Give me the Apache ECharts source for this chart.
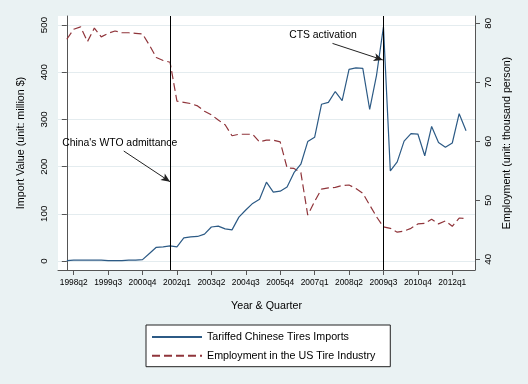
<!DOCTYPE html>
<html><head><meta charset="utf-8">
<script src="https://cdn.jsdelivr.net/npm/echarts@6/dist/echarts.min.js"></script>
<style>html,body{margin:0;padding:0;background:#eaf2f3}#c{width:528px;height:384px}</style>
</head><body><div id="c"></div>
<script>
const quarters = ['1998q1','1998q2','1998q3','1998q4','1999q1','1999q2','1999q3','1999q4','2000q1','2000q2','2000q3','2000q4',
'2001q1','2001q2','2001q3','2001q4','2002q1','2002q2','2002q3','2002q4','2003q1','2003q2','2003q3','2003q4',
'2004q1','2004q2','2004q3','2004q4','2005q1','2005q2','2005q3','2005q4','2006q1','2006q2','2006q3','2006q4',
'2007q1','2007q2','2007q3','2007q4','2008q1','2008q2','2008q3','2008q4','2009q1','2009q2','2009q3','2009q4',
'2010q1','2010q2','2010q3','2010q4','2011q1','2011q2','2011q3','2011q4','2012q1','2012q2','2012q3'];
const tickQuarters = ['1998q2','1999q3','2000q4','2002q1','2003q2','2004q3','2005q4','2007q1','2008q2','2009q3','2010q4','2012q1'];
const leftTicks = [0,100,200,300,400,500];
const rightTicks = [40,50,60,70,80];
const imports = [1,2,2,2,2,2,1,1,1,2,2,3,
16,29,30,32,30,49,51,52,57,72,74,68,66,93,108,122,131,167,146,148,157,187,205,253,262,332,336,
359,340,406,409,408,321,394,496,191,210,254,270,269,223,285,251,241,250,312,276];
const employment = [77.3,79.0,79.4,76.9,79.2,77.7,78.3,78.7,78.4,78.4,78.3,78.2,
76.3,74.2,73.7,73.4,66.8,66.6,66.4,
66.0,65.1,64.5,63.6,62.8,60.95,61.2,61.2,61.2,59.9,60.2,60.2,59.9,
55.5,55.4,54.7,47.5,49.8,51.9,52.1,
52.2,52.5,52.6,52.0,51.2,49.2,47.2,45.5,45.25,44.6,44.8,45.25,46.0,46.1,46.8,46.0,46.5,45.6,47.0,46.9];
const seriesNames = ['Tariffed Chinese Tires Imports','Employment in the US Tire Industry'];
const events = [{label:"China's WTO admittance", quarter:'2001q4'},{label:'CTS activation', quarter:'2009q3'}];

const FONT = "'Liberation Sans',Arial,sans-serif";
const axisCol = '#555555';
const xTickVals = tickQuarters.map(q => quarters.indexOf(q));
const evIdx = events.map(e => quarters.indexOf(e.quarter));

const chart = echarts.init(document.getElementById('c'), null, {renderer:'canvas'});
chart.setOption({
  animation:false,
  backgroundColor:'#eaf2f3',
  textStyle:{fontFamily:FONT},
  grid:{left:58, right:53, top:16, bottom:114, show:true, backgroundColor:'#ffffff', borderWidth:0},
  xAxis:{type:'value', min:-1.28, max:59.3,
    name:'Year & Quarter', nameLocation:'middle', nameGap:31,
    nameTextStyle:{fontFamily:FONT, fontSize:10.7, color:'#000'},
    axisLine:{show:true, onZero:false, lineStyle:{color:axisCol, width:1}},
    axisTick:{show:true, length:5, customValues:xTickVals, lineStyle:{color:axisCol}},
    axisLabel:{customValues:xTickVals, formatter:v => quarters[Math.round(v)], margin:9, hideOverlap:false,
      showMinLabel:true, showMaxLabel:true,
      fontFamily:FONT, fontSize:8.4, color:'#000'},
    splitLine:{show:false}},
  yAxis:[{type:'value', min:-19.07, max:519.07, position:'left',
    name:'Import Value (unit: million $)', nameLocation:'middle', nameGap:31,
    nameTextStyle:{fontFamily:FONT, fontSize:10.7, color:'#000'},
    axisLine:{show:true, lineStyle:{color:axisCol, width:1}},
    axisTick:{show:true, length:5, customValues:leftTicks, lineStyle:{color:axisCol}},
    axisLabel:{customValues:leftTicks, rotate:90, margin:9, fontFamily:FONT, fontSize:9.8, color:'#000'},
    splitLine:{show:true, lineStyle:{color:'#e4ecef', width:1}}},
   {type:'value', min:38.19, max:81.24, position:'right',
    name:'Employment (unit: thousand person)', nameLocation:'middle', nameGap:27,
    nameTextStyle:{fontFamily:FONT, fontSize:10.7, color:'#000'},
    axisLine:{show:true, lineStyle:{color:axisCol, width:1}},
    axisTick:{show:true, length:5, customValues:rightTicks, lineStyle:{color:axisCol}},
    axisLabel:{customValues:rightTicks, rotate:90, margin:8, fontFamily:FONT, fontSize:9.8, color:'#000'},
    splitLine:{show:false}}],
  legend:{left:146, top:325, orient:'vertical', itemWidth:50, itemHeight:14, itemGap:4.7,
    itemStyle:{color:'transparent', borderColor:'transparent', borderWidth:0},
    padding:[5,15,4,5], backgroundColor:'#ffffff', borderColor:'#222', borderWidth:1,
    textStyle:{fontFamily:FONT, fontSize:10.7, color:'#000', lineHeight:14},
    data:seriesNames},
  series:[
    {name:seriesNames[0], type:'line', xAxisIndex:0, yAxisIndex:0, showSymbol:false, symbol:'none',
     data:imports.map((v,i)=>[i,v]),
     lineStyle:{color:'#2c5a85', width:1.2}, itemStyle:{color:'#2c5a85'}, z:3,
     markLine:{silent:true, symbol:['none','arrow'], symbolSize:[6,9], animation:false,
       label:{show:false},
       lineStyle:{color:'#222', width:1, type:'solid'}, itemStyle:{color:'#222'},
       data:[
         [{coord:[8.27,233]},{coord:[evIdx[0],168]}],
         [{coord:[38.6,461]},{coord:[45.9,426]}]
       ]},
     markPoint:{silent:true, symbol:'circle', symbolSize:0, animation:false,
       label:{show:true, position:'right', distance:0, formatter:'{b}', fontFamily:FONT, fontSize:10.4, color:'#000'},
       data:[
         {name:events[0].label, coord:[-0.67,249]},
         {name:events[1].label, coord:[32.3,479]}
       ]}},
    {name:seriesNames[1], type:'line', xAxisIndex:0, yAxisIndex:1, showSymbol:false, symbol:'none',
     data:employment.map((v,i)=>[i,v]),
     lineStyle:{color:'#90353b', width:1.2, type:[8,4]}, itemStyle:{color:'#90353b'}, z:2,
     markLine:{silent:true, symbol:'none', animation:false, label:{show:false},
       lineStyle:{color:'#000', width:1, type:'solid'},
       data:evIdx.map(i => ({xAxis:i}))}}
  ]
});
</script></body></html>
